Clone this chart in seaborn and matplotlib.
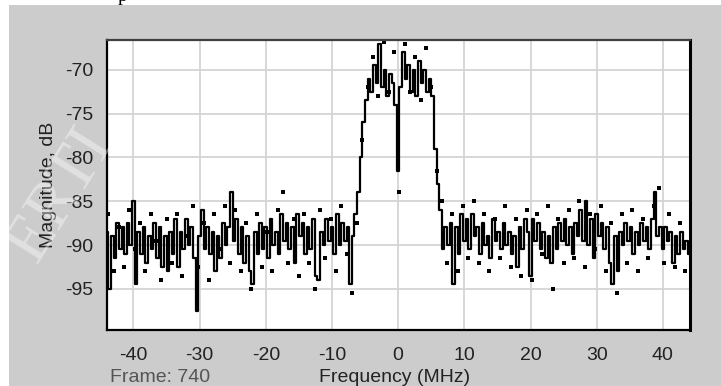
import numpy as np
import matplotlib
matplotlib.use("Agg")
import matplotlib.pyplot as plt
from matplotlib.patches import Rectangle
import seaborn as sns

# spectrum trace, one value every 0.4 MHz from -44 to 44 MHz
magnitude_db = [
    -88.5, -95.0, -89.0, -91.5, -87.5, -90.5, -88.0, -91.0, -87.5, -90.0,
    -85.0, -94.5, -88.5, -91.0, -88.0, -92.0, -89.0, -90.5, -87.5, -91.5,
    -88.0, -92.5, -89.0, -93.0, -88.5, -91.0, -87.0, -92.5, -88.5, -90.5,
    -87.0, -90.0, -88.0, -91.5, -97.5, -89.0, -86.0, -90.5, -88.0, -91.0,
    -88.5, -93.0, -89.0, -91.5, -87.5, -90.0, -88.0, -84.0, -89.5, -87.0,
    -91.0, -88.0, -92.0, -89.0, -93.0, -94.5, -88.5, -91.0, -87.5, -90.5,
    -88.0, -91.5, -87.0, -90.0, -88.5, -91.0, -86.5, -89.5, -87.5, -90.5,
    -88.0, -92.0, -86.5, -89.0, -87.5, -91.0, -88.0, -90.5, -87.0, -93.5,
    -94.0, -88.5, -90.0, -87.0, -89.5, -88.0, -91.0, -86.5, -90.0, -87.5,
    -89.5, -88.0, -94.5, -89.0, -86.5, -84.0, -80.0, -76.0, -73.5, -71.0,
    -72.5, -69.5, -71.5, -67.0, -72.0, -70.0, -73.0, -70.5, -71.5, -74.0,
    -81.5, -72.0, -68.0, -71.0, -69.5, -72.5, -70.0, -73.0, -69.0, -71.5,
    -70.0, -72.5, -71.0, -73.0, -79.0, -83.0, -86.0, -90.5, -88.0, -90.0,
    -87.5, -94.5, -88.0, -91.0, -86.5, -89.5, -87.0, -90.5, -86.5, -89.0,
    -88.0, -91.0, -87.5, -90.0, -89.0, -91.5, -87.0, -89.5, -88.5, -90.5,
    -87.5, -90.0, -88.5, -91.0, -89.0, -92.5, -88.0, -90.5, -87.0, -88.5,
    -93.5, -87.0, -89.5, -87.5, -90.5, -88.5, -91.5, -89.0, -92.0, -88.0,
    -90.5, -87.5, -89.5, -87.0, -90.0, -88.0, -91.0, -87.5, -89.0, -86.0,
    -89.5, -85.0, -90.0, -87.0, -91.5, -86.5, -89.0, -87.5, -90.5, -88.0,
    -92.0, -94.5, -89.0, -93.0, -88.5, -90.0, -87.5, -89.5, -88.0, -91.0,
    -88.5, -90.0, -87.5, -89.5, -88.0, -90.5, -87.0, -84.0, -89.0, -88.0,
    -90.5, -88.0, -89.5, -88.5, -92.0, -89.0, -91.0, -88.5, -90.5, -89.5,
    -91.0,
]

# scattered samples, one every 0.8 MHz starting at -43.8 MHz
scatter_db = [
    -86.5, -93.0, -88.0, -92.5, -86.0, -90.5, -87.5, -93.0, -86.5, -89.5,
    -94.0, -87.0, -92.0, -86.5, -93.5, -89.0, -85.5, -92.5, -87.5, -94.0,
    -86.5, -90.5, -85.5, -92.0, -86.0, -93.0, -87.5, -95.0, -86.5, -92.5,
    -88.5, -93.0, -86.0, -84.0, -92.0, -87.0, -93.5, -86.5, -92.0, -95.0,
    -86.0, -91.5, -87.0, -93.0, -85.5, -91.0, -95.5, -87.5, -78.0, -72.0,
    -68.5, -73.0, -66.8, -72.5, -68.0, -84.0, -67.0, -72.5, -68.5, -73.5,
    -67.5, -72.0, -81.5, -85.0, -92.0, -86.5, -93.0, -85.5, -91.5, -85.0,
    -92.0, -86.5, -93.0, -87.0, -91.5, -85.5, -92.5, -87.0, -93.5, -86.0,
    -94.0, -86.5, -91.0, -85.5, -95.0, -87.0, -92.0, -86.0, -91.5, -85.0,
    -92.5, -86.5, -90.5, -85.5, -93.0, -87.5, -95.5, -86.5, -92.0, -86.0,
    -93.0, -87.0, -91.5, -85.5, -83.5, -92.0, -86.5, -92.5, -87.5, -93.0,
]

freq_mhz = np.linspace(-44, 44, len(magnitude_db))
scatter_mhz = np.linspace(-43.8, 43.4, len(scatter_db))

x_ticks = [-40, -30, -20, -10, 0, 10, 20, 30, 40]
y_ticks = [-95, -90, -85, -80, -75, -70]

sns.set_theme(style="whitegrid")
plt.rcParams["font.family"] = ["Liberation Sans", "DejaVu Sans"]
plt.rcParams["axes.unicode_minus"] = False

W, H = 721, 386
fig = plt.figure(figsize=(W / 100, H / 100), dpi=100)
fig.patch.set_facecolor("white")
fig.add_artist(Rectangle((9 / W, 0), 1, 1 - 5 / H, transform=fig.transFigure,
                         facecolor="#cccccc", edgecolor="none", zorder=-10))

ax = fig.add_axes([107 / W, 56 / H, 583 / W, 290 / H])
ax.set_facecolor("white")

sns.lineplot(x=freq_mhz, y=magnitude_db, ax=ax, color="black", linewidth=1.6,
             drawstyle="steps-mid")
sns.scatterplot(x=scatter_mhz, y=scatter_db, ax=ax, color="black", marker="s",
                s=5, linewidth=0)

ax.set_xlim(-44, 44.1)
ax.set_ylim(-99.7, -66.6)
ax.set_xticks(x_ticks)
ax.set_yticks(y_ticks)
ax.grid(True, color="#d4d4d4", linewidth=1.3)
ax.tick_params(axis="both", labelsize=14, colors="#222222", length=3,
               width=1, direction="out", pad=7)
ax.tick_params(axis="x", pad=9)
for side in ["left", "bottom", "right"]:
    ax.spines[side].set_color("black")
    ax.spines[side].set_linewidth(1.6)
ax.spines["top"].set_color("#404040")
ax.spines["top"].set_linewidth(1.6)
ax.spines["right"].set_linewidth(2.2)

ax.set_xlabel("")
ax.set_ylabel("Magnitude, dB", fontsize=14, color="#222222", labelpad=6)

fig.text(395 / W, 1 - 369 / H, "Frequency (MHz)", ha="center", va="top",
         fontsize=14, color="#222222")
fig.text(110 / W, 1 - 369 / H, "Frame: 740", ha="left", va="top",
         fontsize=14, color="#555555")

# faint watermark and cut-off text above the frame
fig.text(60 / W, 1 - 195 / H, "ERTI", rotation=58, ha="center", va="center",
         fontsize=48, color="white", alpha=0.4,
         family=["Liberation Serif", "DejaVu Serif"], zorder=5)
fig.text(123 / W, 1 - 1 / H, "p", ha="center", va="baseline", fontsize=14,
         color="black", family=["Liberation Serif", "DejaVu Serif"])

fig.savefig("out.png", dpi=100, facecolor=fig.get_facecolor())
